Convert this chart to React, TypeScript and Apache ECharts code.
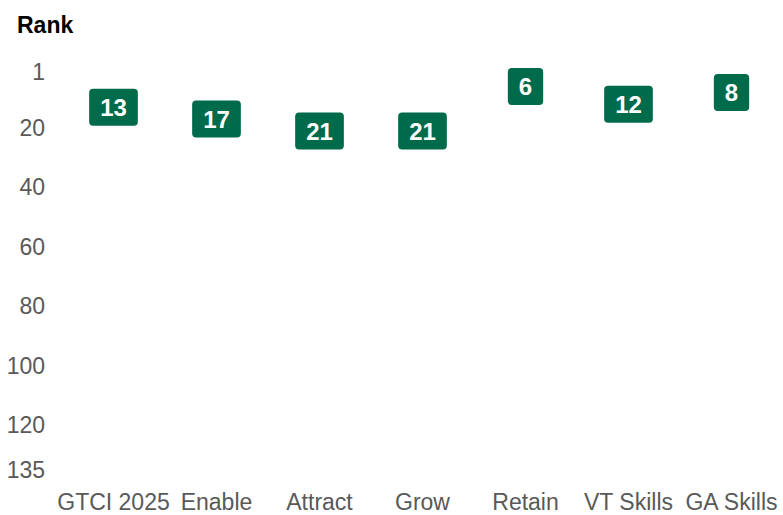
import React, { useEffect, useRef } from "react";
import * as echarts from "echarts";

const categories = ["GTCI 2025", "Enable", "Attract", "Grow", "Retain", "VT Skills", "GA Skills"];
const ranks = [13, 17, 21, 21, 6, 12, 8];
const yTickValues = [1, 20, 40, 60, 80, 100, 120, 135];

const FONT = "'Liberation Sans', Arial, sans-serif";
const GREEN = "#006B4A";

export default function App() {
  const ref = useRef<HTMLDivElement>(null);
  useEffect(() => {
    if (!ref.current) return;
    const chart = echarts.init(ref.current, null, { renderer: "svg" });
    chart.setOption({
      animation: false,
      backgroundColor: "#ffffff",
      title: {
        text: "Rank",
        left: 17,
        top: 13,
        padding: 0,
        textStyle: { fontFamily: FONT, fontSize: 23, fontWeight: "bold", color: "#000000" },
      },
      grid: { left: 62, width: 723, top: 71.6, bottom: 45.4, containLabel: false },
      xAxis: {
        type: "category",
        data: categories,
        axisLine: { show: false },
        axisTick: { show: false },
        splitLine: { show: false },
        axisLabel: { fontFamily: FONT, fontSize: 23, color: "#595959", margin: 21, interval: 0 },
      },
      yAxis: {
        type: "value",
        inverse: true,
        min: 1,
        max: 135,
        axisLine: { show: false },
        axisTick: { show: false },
        splitLine: { show: false },
        axisLabel: {
          fontFamily: FONT,
          fontSize: 23,
          color: "#595959",
          margin: 17,
          customValues: yTickValues,
        },
      },
      series: [
        {
          type: "scatter",
          data: ranks.map((r, i) => [i, r]),
          symbolSize: 1,
          itemStyle: { opacity: 0 },
          label: {
            show: true,
            position: "inside",
            formatter: (p: any) => String(p.value[1]),
            fontFamily: FONT,
            fontSize: 24,
            fontWeight: "bold",
            color: "#ffffff",
            backgroundColor: GREEN,
            borderRadius: 4,
            padding: [6, 11, 6, 11],
            lineHeight: 25,
            opacity: 1,
          },
        },
      ],
    });
    return () => chart.dispose();
  }, []);
  return (
    <div
      ref={ref}
      style={{ position: "fixed", left: 0, top: 0, width: 783, height: 515 }}
    />
  );
}
